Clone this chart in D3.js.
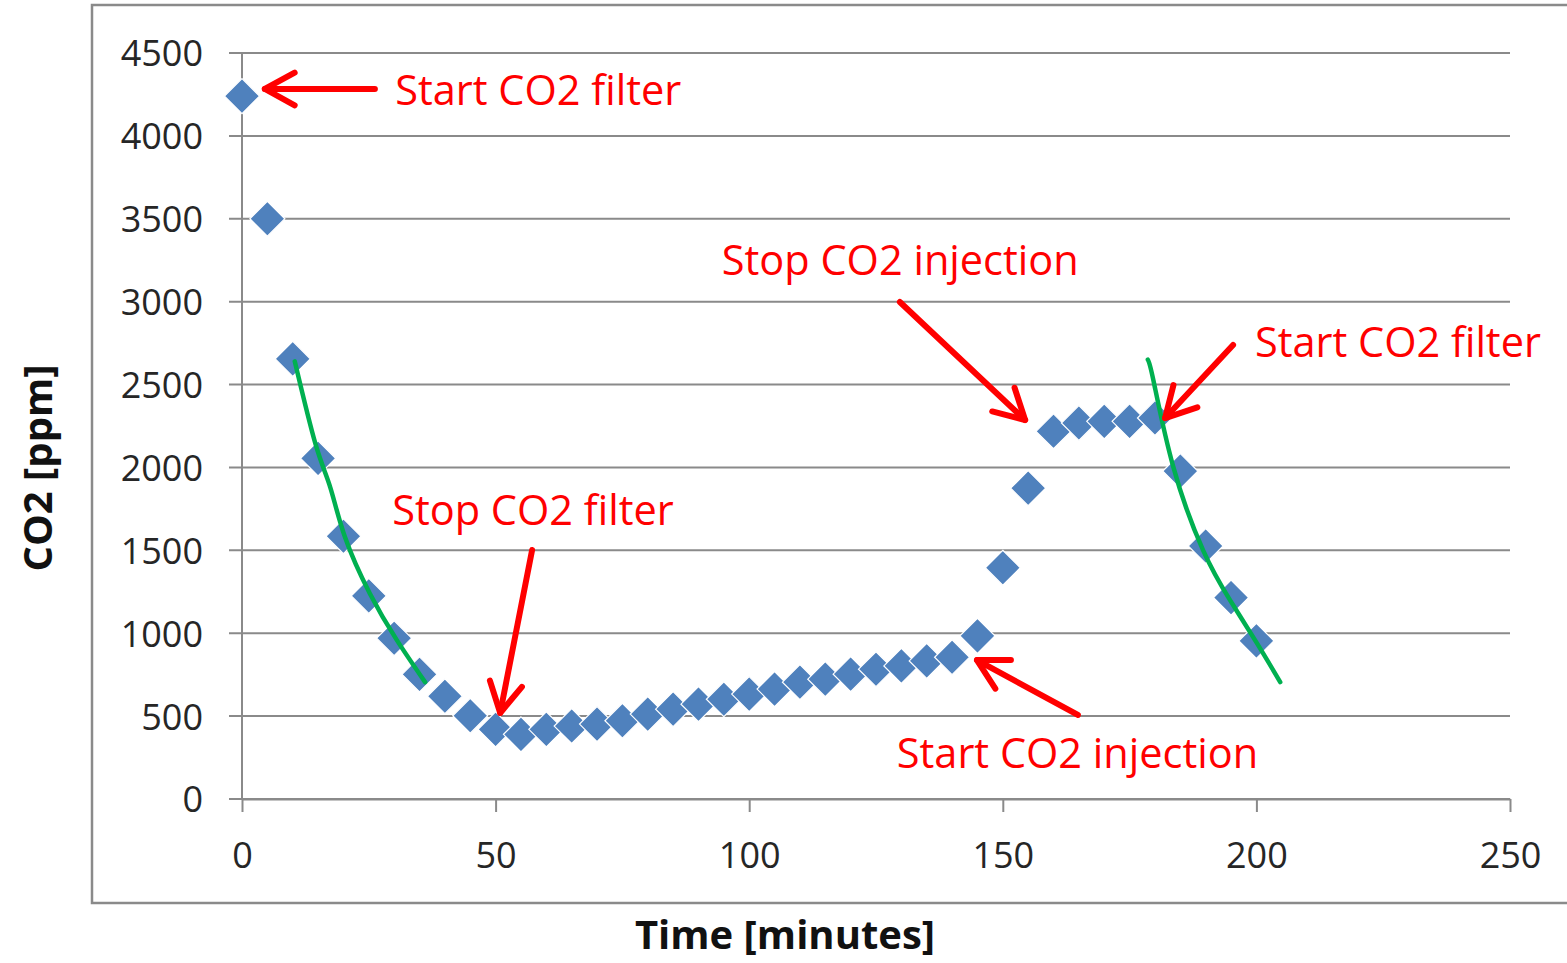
<!DOCTYPE html>
<html>
<head>
<meta charset="utf-8">
<script src="https://cdn.jsdelivr.net/npm/d3@7"></script>
<style>
  body { margin: 0; background: #fff; }
  text { font-family: "Open Sans", "DejaVu Sans", sans-serif; }
</style>
</head>
<body>
<script>
// measured data (time in minutes, CO2 in ppm)
var minutes = [0, 5, 10, 15, 20, 25, 30, 35, 40, 45, 50, 55, 60, 65, 70, 75, 80, 85, 90, 95,
               100, 105, 110, 115, 120, 125, 130, 135, 140, 145, 150, 155, 160, 165, 170, 175,
               180, 185, 190, 195, 200];
var co2 = [4240, 3500, 2655, 2055, 1585, 1225, 970, 752, 620, 502, 420, 390, 420, 440, 452, 472,
           512, 542, 572, 602, 633, 663, 705, 723, 753, 783, 803, 833, 855, 984, 1395, 1875,
           2218, 2268, 2278, 2278, 2298, 1978, 1526, 1215, 954];

// green fitted decay curves
var fit1X = [10.4, 14.5, 17.4, 20.3, 25.2, 30.5, 36.1];
var fit1Y = [2640, 2140, 1880, 1580, 1240, 960, 705];
var fit2X = [178.6, 179.7, 183.6, 189.5, 194.8, 200.1, 204.7];
var fit2Y = [2650, 2525, 2005, 1500, 1200, 940, 705];

var xTicks = [0, 50, 100, 150, 200, 250];
var yTicks = [0, 500, 1000, 1500, 2000, 2500, 3000, 3500, 4000, 4500];

// annotations: text anchor and arrow tail/tip, in data units
var noteText = ["Start CO2 filter", "Stop CO2 injection", "Start CO2 filter", "Stop CO2 filter", "Start CO2 injection"];
var noteTextX = [30.2, 94.6, 199.7, 29.6, 129.1];
var noteTextY = [4186, 3161, 2666, 1653, 187];
var arrowFromX = [26.2, 129.7, 195.4, 57.2, 164.8];
var arrowFromY = [4283, 2998, 2739, 1502, 507];
var arrowToX = [4.5, 154.4, 182.0, 50.9, 144.9];
var arrowToY = [4283, 2286, 2298, 519, 838];

var margin = {left: 242, right: 57, top: 53, bottom: 164},
    width = 1567 - margin.left - margin.right,
    height = 963 - margin.top - margin.bottom;

var gridColor = "#8a8a8a";

var svg = d3.select("body").append("svg")
    .attr("width", 1567)
    .attr("height", 963);

// outer chart frame
svg.append("rect")
    .attr("x", 92).attr("y", 5)
    .attr("width", 1520).attr("height", 898)
    .attr("fill", "none")
    .attr("stroke", gridColor)
    .attr("stroke-width", 2.5);

var g = svg.append("g")
    .attr("transform", "translate(" + margin.left + "," + margin.top + ")");

var x = d3.scaleLinear().domain([0, 250]).range([0, width]);
var y = d3.scaleLinear().domain([0, 4500]).range([height, 0]);

// horizontal gridlines (stick out left as tick marks)
g.selectAll(".grid")
    .data(yTicks)
  .enter().append("line")
    .attr("class", "grid")
    .attr("x1", -13).attr("x2", width)
    .attr("y1", function(d) { return y(d); })
    .attr("y2", function(d) { return y(d); })
    .attr("stroke", gridColor)
    .attr("stroke-width", 2);

// y axis
var yAxis = g.append("g")
    .call(d3.axisLeft(y).tickValues(yTicks).tickFormat(d3.format("d")).tickSize(0).tickPadding(39));
yAxis.select(".domain").remove();
yAxis.selectAll("text")
    .attr("font-size", "36px")
    .attr("fill", "#262626")
    .attr("dy", "0.36em");
g.append("line")
    .attr("x1", 0).attr("x2", 0)
    .attr("y1", 0).attr("y2", height)
    .attr("stroke", gridColor).attr("stroke-width", 2);

// x axis
var xAxis = g.append("g")
    .attr("transform", "translate(0," + height + ")")
    .call(d3.axisBottom(x).tickValues(xTicks).tickFormat(d3.format("d")).tickSize(13).tickSizeOuter(0));
xAxis.select(".domain").attr("stroke", gridColor).attr("stroke-width", 2);
xAxis.selectAll(".tick line").attr("stroke", gridColor).attr("stroke-width", 2);
xAxis.selectAll("text")
    .attr("font-size", "36px")
    .attr("fill", "#262626")
    .attr("y", 69)
    .attr("dy", 0);

// axis titles
svg.append("text")
    .attr("x", 785).attr("y", 949)
    .attr("text-anchor", "middle")
    .attr("font-size", "40px")
    .attr("font-weight", "bold")
    .attr("fill", "#111")
    .text("Time [minutes]");

svg.append("text")
    .attr("transform", "translate(52,468) rotate(-90)")
    .attr("text-anchor", "middle")
    .attr("font-size", "40px")
    .attr("font-weight", "bold")
    .attr("fill", "#111")
    .text("CO2 [ppm]");

// markers
var pts = minutes.map(function(m, i) { return [m, co2[i]]; });
g.selectAll(".pt")
    .data(pts)
  .enter().append("path")
    .attr("class", "pt")
    .attr("d", d3.symbol().type(d3.symbolDiamond2).size(780))
    .attr("transform", function(d) { return "translate(" + x(d[0]) + "," + y(d[1]) + ")"; })
    .attr("fill", "#4F81BD")
    .attr("stroke", "#fff")
    .attr("stroke-width", 1.2);

// green fit lines
var line = d3.line()
    .x(function(d) { return x(d[0]); })
    .y(function(d) { return y(d[1]); })
    .curve(d3.curveNatural);

[[fit1X, fit1Y], [fit2X, fit2Y]].forEach(function(f) {
    g.append("path")
        .datum(f[0].map(function(v, i) { return [v, f[1][i]]; }))
        .attr("d", line)
        .attr("fill", "none")
        .attr("stroke", "#00B050")
        .attr("stroke-width", 4.5)
        .attr("stroke-linecap", "round");
});

// annotations
var red = "#FF0000";
noteText.forEach(function(t, i) {
    g.append("text")
        .attr("x", x(noteTextX[i]))
        .attr("y", y(noteTextY[i]))
        .attr("font-size", "41.5px")
        .attr("fill", red)
        .text(t);

    var x0 = x(arrowFromX[i]), y0 = y(arrowFromY[i]),
        x1 = x(arrowToX[i]), y1 = y(arrowToY[i]);
    var ang = Math.atan2(y0 - y1, x0 - x1),
        len = 34, spread = 0.5;
    var head = "M" + (x1 + len * Math.cos(ang - spread)) + "," + (y1 + len * Math.sin(ang - spread)) +
               "L" + x1 + "," + y1 +
               "L" + (x1 + len * Math.cos(ang + spread)) + "," + (y1 + len * Math.sin(ang + spread));
    g.append("path")
        .attr("d", "M" + x0 + "," + y0 + "L" + x1 + "," + y1)
        .attr("stroke", red).attr("stroke-width", 6)
        .attr("stroke-linecap", "round").attr("fill", "none");
    g.append("path")
        .attr("d", head)
        .attr("stroke", red).attr("stroke-width", 6)
        .attr("stroke-linecap", "round").attr("stroke-linejoin", "round")
        .attr("fill", "none");
});
</script>
</body>
</html>
